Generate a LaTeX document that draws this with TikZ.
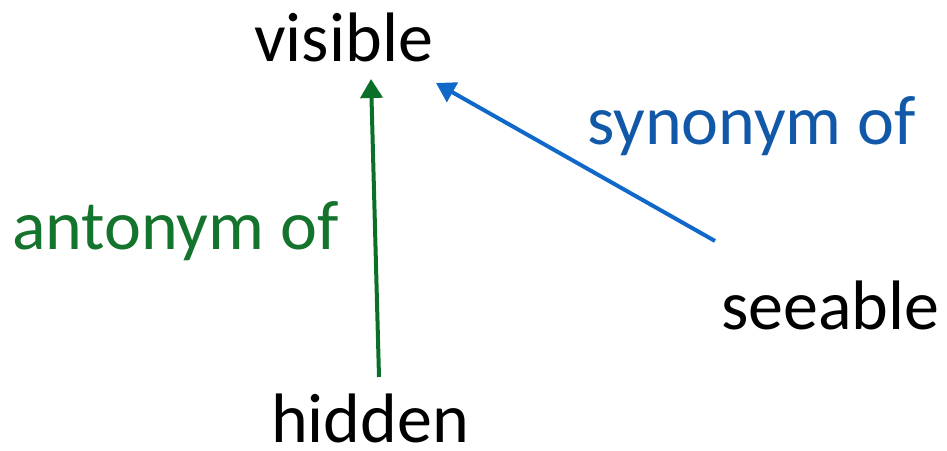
\documentclass[tikz,border=0pt]{standalone}
\usepackage{fontspec}
\setmainfont{Carlito}
\usetikzlibrary{arrows.meta}
\definecolor{ggreen}{RGB}{10,112,40}
\definecolor{gtext}{RGB}{20,115,45}
\definecolor{barrow}{RGB}{16,104,200}
\definecolor{btext}{RGB}{18,88,168}
\tikzset{
  word/.style={inner sep=0pt, anchor=base west, font=\fontsize{70}{80}\selectfont},
  rel/.style={line width=4pt, -{Triangle[length=19pt,width=22pt]}}
}
\begin{document}
\begin{tikzpicture}[x=1pt,y=1pt]
\useasboundingbox (0,0) rectangle (947,450);
\node[word] (visible) at (254,388) {visible};
\node[word, text=gtext] (ant) at (12,200) {antonym of};
\node[word, text=btext] (syn) at (587,305) {synonym of};
\node[word] (seeable) at (721,121) {seeable};
\node[word, text depth=0pt] (hidden) at (271,8) {hidden};
\coordinate (hTop) at (379,73);
\coordinate (vBot) at (371,371);
\coordinate (sTop) at (715,209);
\coordinate (vRight) at (436,367);
\draw[rel, ggreen] (hTop) -- (vBot);
\draw[rel, barrow] (sTop) -- (vRight);
\end{tikzpicture}
\end{document}
